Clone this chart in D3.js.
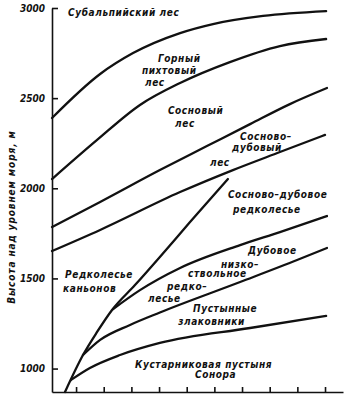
<!DOCTYPE html>
<html>
<head>
<meta charset="utf-8">
<script src="https://cdn.jsdelivr.net/npm/d3@7"></script>
<style>
body { margin: 0; background: #fff; }
svg text {
  font-family: "DejaVu Sans Condensed", "DejaVu Sans", sans-serif;
  font-style: italic;
  font-weight: bold;
  fill: #111;
}
</style>
</head>
<body>
<div id="chart"></div>
<script>
// zone boundaries, [position along the unlabelled x axis, elevation in m]
const subalpineFir = [[0.13, 2390], [1.87, 2634], [3.06, 2750], [4.76, 2861], [5.95, 2911], [7.76, 2956], [10.04, 2983]]
const firPine = [[0.13, 2051], [1.76, 2268], [3.31, 2462], [4.76, 2584], [6.56, 2700], [8.37, 2789], [10.04, 2828]]
const pinePineOak = [[0.13, 1785], [1.87, 1924], [4.03, 2101], [5.73, 2234], [7.29, 2356], [8.73, 2467], [10.07, 2556]]
const pineOakWoodland = [[0.13, 1652], [1.87, 1769], [4.76, 1979], [6.67, 2101], [8.37, 2201], [10.0, 2296]]
const canyonEdge = [[0.60, 870], [1.25, 1075], [1.76, 1203], [2.30, 1325], [3.13, 1463], [4.03, 1619], [5.12, 1813], [6.49, 2051]]
const oakWoodland = [[2.34, 1330], [3.31, 1435], [4.76, 1558], [6.93, 1685], [8.37, 1757], [10.07, 1846]]
const desertGrass = [[1.25, 1075], [1.87, 1159], [2.95, 1242], [4.03, 1311], [6.93, 1480], [8.99, 1602], [10.07, 1669]]
const desertScrub = [[0.82, 937], [1.50, 1003], [2.59, 1075], [4.03, 1142], [7.29, 1225], [10.04, 1292]]

const boundaries = [subalpineFir, firPine, pinePineOak, pineOakWoodland, canyonEdge, oakWoodland, desertGrass, desertScrub]

const yTicks = [1000, 1500, 2000, 2500, 3000]
const xTicks = [1, 2, 3, 4, 5, 6, 7, 8, 9, 10]
const yTitle = "Высота над уровнем моря, м"

// zone names: text, x value, elevation at the baseline start
const zoneLabels = [
  ["Субальпийский лес", 0.71, 2956],
  ["Горный", 3.96, 2700],
  ["пихтовый", 3.38, 2634],
  ["лес", 3.49, 2567],
  ["Сосновый", 4.32, 2412],
  ["лес", 4.58, 2340],
  ["Сосново–", 6.93, 2268],
  ["дубовый", 6.64, 2207],
  ["лес", 5.84, 2124],
  ["Сосново–дубовое", 6.49, 1946],
  ["редколесье", 6.67, 1863],
  ["Дубовое", 7.22, 1635],
  ["низко–", 6.24, 1558],
  ["ствольное", 5.05, 1508],
  ["редко–", 4.29, 1436],
  ["лесье", 3.60, 1369],
  ["Пустынные", 5.23, 1314],
  ["злаковники", 4.69, 1242],
  ["Редколесье", 0.60, 1502],
  ["каньонов", 0.53, 1425],
  ["Кустарниковая пустыня", 3.13, 1003],
  ["Сонора", 5.30, 948]
]

const width = 364
const height = 398
const margin = { top: 8, right: 21, bottom: 6, left: 52 }
const innerWidth = width - margin.left - margin.right
const innerHeight = height - margin.top - margin.bottom

const svg = d3.select("#chart").append("svg")
  .attr("width", width)
  .attr("height", height)

const g = svg.append("g")
  .attr("transform", "translate(" + margin.left + "," + margin.top + ")")

const x = d3.scaleLinear().domain([0.13, 10.65]).range([0, innerWidth])
const y = d3.scaleLinear().domain([870, 3000]).range([innerHeight, 0])

const yAxis = g.append("g")
  .call(d3.axisLeft(y).tickValues(yTicks).tickFormat(d3.format("d"))
    .tickSize(-6).tickSizeOuter(0).tickPadding(7))

const xAxis = g.append("g")
  .attr("transform", "translate(0," + innerHeight + ")")
  .call(d3.axisBottom(x).tickValues(xTicks).tickFormat("")
    .tickSize(-5).tickSizeOuter(0))

g.selectAll(".domain, .tick line")
  .attr("stroke", "#111")
  .attr("stroke-width", 1.6)

yAxis.selectAll("text")
  .attr("font-size", 10)
  .attr("fill", "#111")

const line = d3.line()
  .x(d => x(d[0]))
  .y(d => y(d[1]))
  .curve(d3.curveMonotoneX)

g.selectAll(".boundary")
  .data(boundaries)
  .join("path")
  .attr("class", "boundary")
  .attr("d", line)
  .attr("fill", "none")
  .attr("stroke", "#111")
  .attr("stroke-width", 2.3)
  .attr("stroke-linecap", "round")

g.selectAll(".zone")
  .data(zoneLabels)
  .join("text")
  .attr("class", "zone")
  .attr("x", d => x(d[1]))
  .attr("y", d => y(d[2]))
  .attr("font-size", 10)
  .attr("letter-spacing", 0.6)
  .text(d => d[0])

svg.append("text")
  .attr("transform", "translate(15,217) rotate(-90)")
  .attr("text-anchor", "middle")
  .attr("font-size", 10)
  .attr("letter-spacing", 0.9)
  .text(yTitle)
</script>
</body>
</html>
